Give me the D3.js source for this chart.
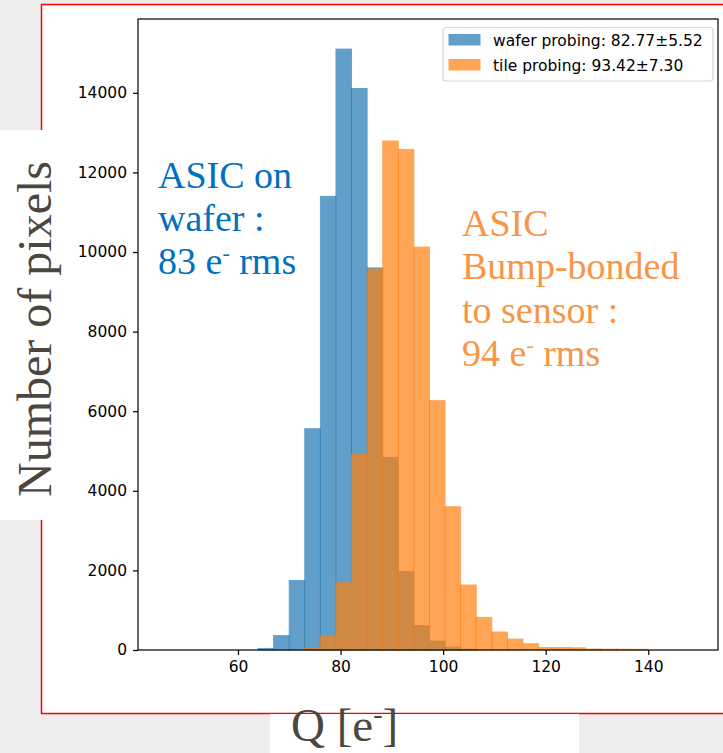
<!DOCTYPE html>
<html>
<head>
<meta charset="utf-8">
<script src="https://cdn.jsdelivr.net/npm/d3@7"></script>
<style>
  body { margin: 0; background: #ebebeb; }
  svg { display: block; }
</style>
</head>
<body>
<div id="chart"></div>
<script>
'use strict';

// histogram bins (Q in e-)
const binEdges = [63.9, 66.94, 69.98, 73.02, 76.06, 79.1, 82.14, 85.18, 88.22, 91.26,
  94.3, 97.34, 100.38, 103.42, 106.46, 109.5, 112.54, 115.58, 118.62, 121.66,
  124.7, 127.74, 130.78, 133.82, 136.86, 139.9];

const waferCounts = [40, 360, 1750, 5560, 11400, 15100, 14110, 9600, 4840, 1970,
  610, 226, 70, 20, 0, 0, 0, 0, 0, 0, 0, 0, 0, 0, 0];

const tileCounts = [0, 0, 0, 40, 360, 1690, 4925, 9570, 12790, 12580,
  10125, 6265, 3600, 1633, 820, 452, 276, 158, 65, 62, 55, 25, 22, 20, 18];

const xTicks = [60, 80, 100, 120, 140];
const yTicks = [0, 2000, 4000, 6000, 8000, 10000, 12000, 14000];
const xLimits = [40.5, 153.6];

const legendLabels = ['wafer probing: 82.77\u00b15.52', 'tile probing: 93.42\u00b17.30'];
const seriesColors = ['#1f77b4', '#ff7f0e'];

const W = 723, H = 753;
const plot = { left: 138, right: 718, top: 19, bottom: 650 };

let svg = d3.select('#chart').append('svg').attr('width', W).attr('height', H);

// slide background, red frame and white figure area
svg.append('rect').attr('width', W).attr('height', H).attr('fill', '#ededed');
svg.append('rect').attr('x', 41).attr('y', 4).attr('width', W - 41).attr('height', 709)
  .attr('fill', '#fff');
svg.append('path')
  .attr('d', 'M' + W + ',4.5 H41.5 V713.5 H' + W)
  .attr('fill', 'none').attr('stroke', '#ff0000').attr('stroke-width', 1.5);

let xScale = d3.scaleLinear().domain(xLimits).range([plot.left, plot.right]);
let yMax = d3.max(waferCounts.concat(tileCounts)) * 1.05;
let yScale = d3.scaleLinear().domain([0, yMax]).range([plot.bottom, plot.top]);

function drawHist(counts, color) {
  let bins = counts.map((c, i) => ({ x0: binEdges[i], x1: binEdges[i + 1], n: c }))
    .filter(d => d.n > 0);
  svg.append('g').selectAll('rect')
    .data(bins)
    .enter()
    .append('rect')
      .attr('x', d => xScale(d.x0))
      .attr('width', d => xScale(d.x1) - xScale(d.x0))
      .attr('y', d => yScale(d.n))
      .attr('height', d => yScale(0) - yScale(d.n))
      .attr('fill', color)
      .attr('stroke', color)
      .attr('stroke-width', 0.9)
      .attr('opacity', 0.7);
}

drawHist(waferCounts, seriesColors[0]);
drawHist(tileCounts, seriesColors[1]);

// axes
let xAxis = d3.axisBottom(xScale).tickValues(xTicks).tickSize(5).tickPadding(6);
let gx = svg.append('g').attr('transform', 'translate(0,' + plot.bottom + ')').call(xAxis);
let yAxis = d3.axisLeft(yScale).tickValues(yTicks).tickSize(5).tickPadding(6)
  .tickFormat(d3.format('d'));
let gy = svg.append('g').attr('transform', 'translate(' + plot.left + ',0)').call(yAxis);

[gx, gy].forEach(g => {
  g.select('.domain').remove();
  g.selectAll('.tick line').attr('stroke', '#000').attr('stroke-width', 1.2);
  g.selectAll('.tick text')
    .style('font-family', 'DejaVu Sans')
    .style('font-size', '15.5px')
    .attr('fill', '#000');
});

svg.append('rect')
  .attr('x', plot.left).attr('y', plot.top)
  .attr('width', plot.right - plot.left).attr('height', plot.bottom - plot.top)
  .attr('fill', 'none').attr('stroke', '#000').attr('stroke-width', 1.2);

// legend
let legend = svg.append('g');
legend.append('rect')
  .attr('x', 443).attr('y', 27.5).attr('width', 270).attr('height', 53.5)
  .attr('rx', 3).attr('fill', '#fff').attr('fill-opacity', 0.8)
  .attr('stroke', '#d6d6d6').attr('stroke-width', 1.2);
legendLabels.forEach((label, i) => {
  legend.append('rect')
    .attr('x', 448.5).attr('y', 34 + i * 25).attr('width', 32).attr('height', 11.5)
    .attr('fill', seriesColors[i]).attr('opacity', 0.7);
  legend.append('text')
    .attr('x', 493).attr('y', 46 + i * 24.8)
    .style('font-family', 'DejaVu Sans').style('font-size', '15.5px')
    .attr('fill', '#000')
    .text(label);
});

// slide labels on top of the figure
const serif = '"Liberation Serif", "DejaVu Serif", serif';

svg.append('rect').attr('x', 0).attr('y', 130).attr('width', 62).attr('height', 390)
  .attr('fill', '#fff');
svg.append('text')
  .attr('transform', 'translate(51, 329)rotate(-90)')
  .attr('text-anchor', 'middle')
  .style('font-family', serif).style('font-size', '48px')
  .attr('fill', '#4b473f')
  .text('Number of pixels');

svg.append('rect').attr('x', 270).attr('y', 714).attr('width', 309).attr('height', 39)
  .attr('fill', '#fff');
let qLabel = svg.append('text')
  .attr('x', 291).attr('y', 741)
  .style('font-family', serif).style('font-size', '47px')
  .attr('fill', '#4b473f');
qLabel.append('tspan').text('Q [e');
qLabel.append('tspan').attr('dy', -18).style('font-size', '28px').text('-');
qLabel.append('tspan').attr('dy', 18).text(']');

function noteLines(lines, x, y0, step, color) {
  lines.forEach((line, i) => {
    let t = svg.append('text')
      .attr('x', x).attr('y', y0 + i * step)
      .style('font-family', serif).style('font-size', '38px')
      .attr('fill', color);
    if (line.indexOf('e-') >= 0) {
      let parts = line.split('e-');
      t.append('tspan').text(parts[0] + 'e');
      t.append('tspan').attr('dy', -14).style('font-size', '22px').text('-');
      t.append('tspan').attr('dy', 14).text(parts[1]);
    } else {
      t.text(line);
    }
  });
}

noteLines(['ASIC on', 'wafer :', '83 e- rms'], 158, 188, 43, '#0070c0');
noteLines(['ASIC', 'Bump-bonded', 'to sensor :', '94 e- rms'], 462, 236, 43.3, '#f79646');
</script>
</body>
</html>
